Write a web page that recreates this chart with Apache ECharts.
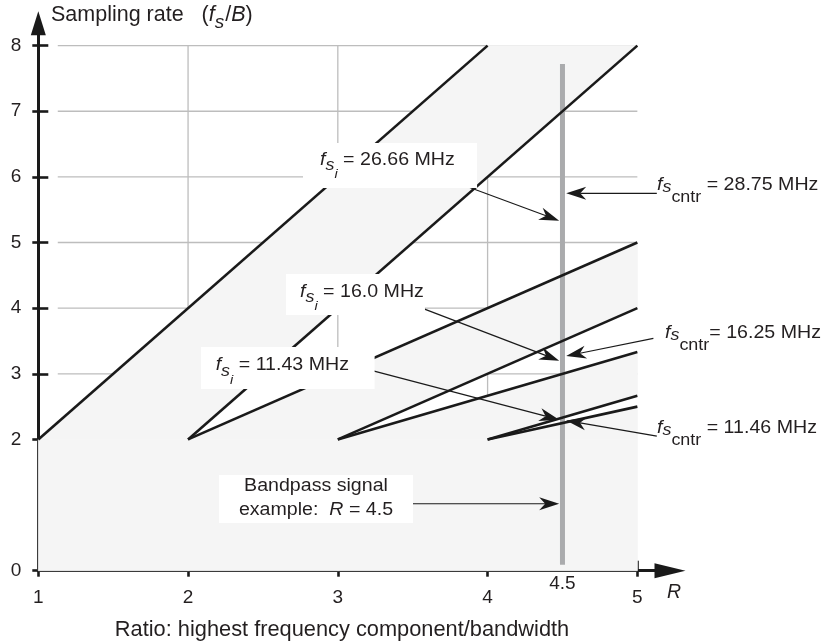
<!DOCTYPE html>
<html>
<head>
<meta charset="utf-8">
<script src="https://cdn.jsdelivr.net/npm/echarts@6/dist/echarts.min.js"></script>
<style>
html,body{margin:0;padding:0;background:#fff;}
#c{width:825px;height:643px;}
</style>
</head>
<body>
<div id="c"></div>
<script>
// ---------------- data ----------------
const xTickValues  = [1, 2, 3, 4, 5];
const xLabelValues = [1, 2, 3, 4, 4.5, 5];
const yTickValues  = [0, 2, 3, 4, 5, 6, 7, 8];
const gridXValues  = [2, 3, 4];
const gridYValues  = [3, 4, 5, 6, 7, 8];

// boundary lines of the sampling zones (R, fs/B)
const boundaryLines = [
  [[1, 2], [4, 8]],
  [[2, 2], [5, 8]],
  [[2, 2], [5, 5]],
  [[3, 2], [5, 4]],
  [[3, 2], [5, 3.333]],
  [[4, 2], [5, 2.667]],
  [[4, 2], [5, 2.5]]
];

// shaded (aliasing) regions
const grayRegions = [
  [[1, 0], [5, 0], [5, 2], [1, 2]],
  [[1, 2], [4, 8], [5, 8], [2, 2]],
  [[2, 2], [5, 5], [5, 4], [3, 2]],
  [[3, 2], [5, 3.333], [5, 2.667], [4, 2]],
  [[4, 2], [5, 2.5], [5, 2]]
];

const exampleR = 4.5;
const exampleSpan = [0.09, 7.72];

// annotation arrows: start and tip (R, fs/B)
const arrowFrom = [[3.70, 5.99], [5.13, 5.75], [3.54, 4.02], [5.107, 3.54], [3.16, 3.09], [5.13, 2.05], [3.46, 1.02]];
const arrowTo   = [[4.478, 5.333], [4.525, 5.75], [4.478, 3.20], [4.525, 3.27], [4.478, 2.30], [4.525, 2.29], [4.478, 1.02]];

// ---------------- chart ----------------
const FONT = '"Liberation Sans", Arial, Helvetica, sans-serif';
const INK = '#231f20';
const LINE = '#1a1a1a';
const GRID = '#bdbdbd';
const SHADE = '#f5f5f5';
const TICKFONT = 19;

const chart = echarts.init(document.getElementById('c'), null, {renderer: 'canvas', width: 825, height: 643});

const series = [];

gridXValues.forEach(x => series.push({
  type: 'line', z: 1, silent: true, symbol: 'none', animation: false,
  data: [[x, 0], [x, 8]],
  lineStyle: {color: GRID, width: 1.3}
}));
gridYValues.forEach(y => series.push({
  type: 'line', z: 1, silent: true, symbol: 'none', animation: false,
  data: [[1.13, y], [5, y]],
  lineStyle: {color: GRID, width: 1.3}
}));

series.push({
  type: 'custom', z: 2, silent: true, animation: false,
  coordinateSystem: 'cartesian2d',
  data: grayRegions.map(p => p[0]),
  renderItem: function (params, api) {
    const poly = grayRegions[params.dataIndex];
    return {
      type: 'polygon',
      shape: {points: poly.map(p => api.coord(p))},
      style: {fill: SHADE, stroke: SHADE, lineWidth: 0.8}
    };
  }
});

series.push({
  type: 'line', z: 3, silent: true, symbol: 'none', animation: false,
  data: [[exampleR, exampleSpan[0]], [exampleR, exampleSpan[1]]],
  lineStyle: {color: '#aaabad', width: 5}
});

boundaryLines.forEach(seg => series.push({
  type: 'line', z: 4, silent: true, symbol: 'none', animation: false,
  data: seg,
  lineStyle: {color: LINE, width: 2.6}
}));

series.push({
  type: 'custom', z: 5, silent: true, animation: false,
  coordinateSystem: 'cartesian2d',
  encode: {x: [0, 2], y: [1, 3]},
  data: arrowFrom.map((p, i) => [p[0], p[1], arrowTo[i][0], arrowTo[i][1]]),
  renderItem: function (params, api) {
    const a = api.coord([api.value(0), api.value(1)]);
    const b = api.coord([api.value(2), api.value(3)]);
    const dx = b[0] - a[0], dy = b[1] - a[1];
    const L = Math.sqrt(dx * dx + dy * dy);
    const ux = dx / L, uy = dy / L, nx = -uy, ny = ux;
    const headL = 20, headW = 6.5, notch = 14;
    const back = [b[0] - ux * headL, b[1] - uy * headL];
    const nPt = [b[0] - ux * notch, b[1] - uy * notch];
    return {
      type: 'group',
      children: [
        {type: 'line', shape: {x1: a[0], y1: a[1], x2: nPt[0], y2: nPt[1]}, style: {stroke: LINE, lineWidth: 1.2}},
        {type: 'polygon', shape: {points: [
          b,
          [back[0] + nx * headW, back[1] + ny * headW],
          nPt,
          [back[0] - nx * headW, back[1] - ny * headW]
        ]}, style: {fill: LINE}}
      ]
    };
  }
});

const tickStyle = {color: LINE, width: 2.6};

const option = {
  animation: false,
  backgroundColor: '#fff',
  textStyle: {fontFamily: FONT, color: INK},
  grid: {left: 38.3, right: 155, top: 23.3, bottom: 72.3, containLabel: false, outerBoundsMode: 'none'},
  xAxis: [
    {
      type: 'value', min: 1, max: 5.218, position: 'bottom',
      axisLine: {show: true, onZero: false, symbol: ['none', 'triangle'], symbolSize: [15, 31], lineStyle: {color: LINE, width: 3}},
      axisTick: {show: true, customValues: xTickValues, length: 6, lineStyle: tickStyle},
      axisLabel: {
        show: true, customValues: xLabelValues, margin: 4,
        fontFamily: FONT, fontSize: TICKFONT, color: INK,
        formatter: v => (v === 4.5 ? '{h|4.5}' : '{n|' + v + '}'),
        rich: {
          n: {fontFamily: FONT, fontSize: TICKFONT, color: INK, padding: [14, 0, 0, 0]},
          h: {fontFamily: FONT, fontSize: TICKFONT, color: INK}
        }
      },
      splitLine: {show: false}
    },
    {
      type: 'value', min: 1, max: 5.218, position: 'bottom',
      axisLine: {show: false, onZero: false},
      axisTick: {show: true, inside: true, customValues: xTickValues, length: 10, lineStyle: tickStyle},
      axisLabel: {show: false},
      splitLine: {show: false}
    }
  ],
  yAxis: [
    {
      type: 'value', min: 0, max: 8.34, position: 'left',
      axisLine: {show: true, onZero: false, symbol: ['none', 'triangle'], symbolSize: [15, 24], lineStyle: {color: LINE, width: 3}},
      axisTick: {show: true, customValues: yTickValues, length: 6, lineStyle: tickStyle},
      axisLabel: {show: true, customValues: yTickValues, margin: 17, fontFamily: FONT, fontSize: TICKFONT, color: INK},
      splitLine: {show: false}
    },
    {
      type: 'value', min: 0, max: 8.34, position: 'left',
      axisLine: {show: false, onZero: false},
      axisTick: {show: true, inside: true, customValues: yTickValues, length: 10, lineStyle: tickStyle},
      axisLabel: {show: false},
      splitLine: {show: false}
    }
  ],
  series: series
};
chart.setOption(option);

// ---------------- annotations ----------------
const SX = 1.12;
function tok(size, italic, pad) {
  return {fontFamily: FONT, fontSize: size, fontStyle: italic ? 'italic' : 'normal', fill: INK,
          lineHeight: 31, verticalAlign: 'top', padding: [pad, 0, 0, 0]};
}
const subRich = {
  f: tok(17.5, true, 0),
  m: tok(17.5, false, 0),
  s: tok(16, true, 6.85),
  i: tok(13, true, 17.25),
  sc: tok(16, true, 3.35),
  c: tok(16, false, 13.35)
};
function siText(rest) { return '{f|f}{s|s}{i|i}{m| = ' + rest + '}'; }
function cntrText(rest, sp) { return '{f|f}{sc|s}{c|cntr}{m|' + (sp ? ' ' : '') + '= ' + rest + '}'; }

function box(x, y, text, pad) {
  return {
    type: 'text', x: x, y: y, scaleX: SX, z: 100, silent: true,
    style: {text: text, rich: subRich, align: 'left', verticalAlign: 'top',
            backgroundColor: '#fff', padding: pad, fill: INK, fontFamily: FONT, fontSize: 17.5}
  };
}
function plain(x, y, text) {
  return {
    type: 'text', x: x, y: y, scaleX: SX, z: 100, silent: true,
    style: {text: text, rich: subRich, align: 'left', verticalAlign: 'top', fill: INK, fontFamily: FONT, fontSize: 17.5}
  };
}

const graphics = [
  box(303, 143, siText('26.66 MHz'), [7.75, 19.9, 6.25, 15.2]),
  box(286, 274, siText('16.0 MHz'), [8.95, 1, 1.05, 12.5]),
  box(201, 347, siText('11.43 MHz'), [9.25, 22.9, 1.75, 13.1]),
  plain(657, 175.75, cntrText('28.75 MHz', true)),
  plain(665, 324.25, cntrText('16.25 MHz', false)),
  plain(657, 419.25, cntrText('11.46 MHz', true)),
  {
    type: 'text', x: 316, y: 475, scaleX: SX, z: 100, silent: true,
    style: {
      text: '{n|Bandpass signal}\n{n|example:  }{r|R}{n| = 4.5}',
      rich: {
        n: {fontFamily: FONT, fontSize: 17.5, fill: INK, lineHeight: 23.3},
        r: {fontFamily: FONT, fontSize: 17.5, fontStyle: 'italic', fill: INK, lineHeight: 23.3}
      },
      align: 'center', verticalAlign: 'top', backgroundColor: '#fff', padding: [0, 17.8, 1.4, 17.8],
      fill: INK, fontFamily: FONT, fontSize: 17.5
    }
  },
  {
    type: 'text', x: 51, y: 4.25, z: 100, silent: true,
    style: {
      text: '{m|Sampling rate   (}{fi|f}{s|s}{m|/}{bi|B}{m|)}',
      rich: {
        m: {fontFamily: FONT, fontSize: 21.5, fill: INK, lineHeight: 40, verticalAlign: 'top'},
        fi: {fontFamily: FONT, fontSize: 21.5, fontStyle: 'italic', fill: INK, lineHeight: 40, verticalAlign: 'top'},
        bi: {fontFamily: FONT, fontSize: 21.5, fontStyle: 'italic', fill: INK, lineHeight: 40, verticalAlign: 'top'},
        s: {fontFamily: FONT, fontSize: 19, fontStyle: 'italic', fill: INK, lineHeight: 40, verticalAlign: 'top', padding: [8.6, 1, 0, 0]}
      },
      align: 'left', verticalAlign: 'top', fill: INK
    }
  },
  {
    type: 'text', x: 342, y: 629.8, z: 100, silent: true,
    style: {text: 'Ratio: highest frequency component/bandwidth', fontFamily: FONT, fontSize: 21.8,
            fill: INK, align: 'center', verticalAlign: 'middle'}
  },
  {
    type: 'text', x: 674, y: 592.5, z: 100, silent: true,
    style: {text: 'R', fontFamily: FONT, fontSize: 19.5, fontStyle: 'italic',
            fill: INK, align: 'center', verticalAlign: 'middle'}
  }
];
chart.setOption({graphic: graphics});
</script>
</body>
</html>
